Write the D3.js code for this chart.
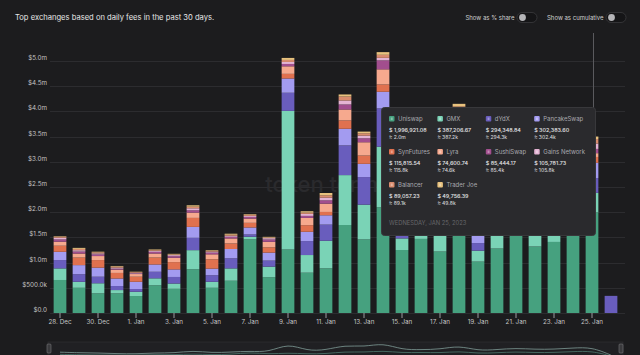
<!DOCTYPE html>
<html>
<head>
<meta charset="utf-8">
<script src="https://cdn.jsdelivr.net/npm/d3@7"></script>
<style>
  html, body { margin: 0; padding: 0; background: #1c1c1e; }
  svg { display: block; font-family: Inter, "Noto Sans", sans-serif; }
</style>
</head>
<body>
<svg id="chart" width="640" height="355"></svg>
<script>
// ---------------- DATA ----------------
const days = [
  "2022-12-28","2022-12-29","2022-12-30","2022-12-31","2023-01-01","2023-01-02",
  "2023-01-03","2023-01-04","2023-01-05","2023-01-06","2023-01-07","2023-01-08",
  "2023-01-09","2023-01-10","2023-01-11","2023-01-12","2023-01-13","2023-01-14",
  "2023-01-15","2023-01-16","2023-01-17","2023-01-18","2023-01-19","2023-01-20",
  "2023-01-21","2023-01-22","2023-01-23","2023-01-24","2023-01-25","2023-01-26"
];
const xTickDays = ["2022-12-28","2022-12-30","2023-01-01","2023-01-03","2023-01-05","2023-01-07",
  "2023-01-09","2023-01-11","2023-01-13","2023-01-15","2023-01-17","2023-01-19",
  "2023-01-21","2023-01-23","2023-01-25"];
const xTickLabels = ["28. Dec","30. Dec","1. Jan","3. Jan","5. Jan","7. Jan","9. Jan","11. Jan",
  "13. Jan","15. Jan","17. Jan","19. Jan","21. Jan","23. Jan","25. Jan"];
const yTicks = [0, 0.5, 1, 1.5, 2, 2.5, 3, 3.5, 4, 4.5, 5];           // $m
const yTickLabels = ["$0.0","$500.0k","$1.0m","$1.5m","$2.0m","$2.5m","$3.0m","$3.5m","$4.0m","$4.5m","$5.0m"];

const seriesNames = ["Uniswap","GMX","dYdX","PancakeSwap","SynFutures","Lyra","SushiSwap","Gains Network","Balancer","Trader Joe"];
const seriesColors = ["#46a17f","#7ad3b6","#695dbd","#a39bf0","#e0714f","#f6a98e","#a24e8e","#e4b3d3","#d98c6e","#e8c27e"];

// daily fees, $m
const uniswap    = [0.655,0.50,0.39,0.39,0.337,0.55,0.48,0.867,0.50,0.64,1.46,0.71,1.26,0.80,0.887,1.746,1.46,2.10,1.25,1.47,1.22,1.90,1.02,1.28,1.70,1.32,1.41,1.75,1.997,0];
const gmx        = [0.23,0.12,0.20,0.065,0.085,0.138,0.105,0.38,0.12,0.245,0.053,0.21,2.75,0.35,0.547,0.99,0.69,1.20,0.23,0.20,0.40,0.80,0.217,0.30,0.35,0.30,0.25,0.35,0.387,0];
const dydx       = [0.165,0.15,0.13,0.08,0.053,0.13,0.13,0.245,0.13,0.20,0.046,0.12,0.36,0.277,0.32,0.59,0.547,0.76,0.30,0.25,0.30,0.45,0.15,0.28,0.30,0.28,0.27,0.28,0.294,0.34];
const pancakeswap= [0.165,0.18,0.18,0.15,0.145,0.145,0.15,0.217,0.13,0.185,0.138,0.158,0.283,0.185,0.185,0.33,0.263,0.33,0.25,0.25,0.28,0.35,0.25,0.27,0.30,0.28,0.29,0.30,0.302,0];
const synfutures = [0.12,0.15,0.15,0.11,0.10,0.138,0.145,0.178,0.185,0.11,0.092,0.105,0.092,0.13,0.066,0.165,0.165,0.145,0.12,0.10,0.12,0.15,0.12,0.12,0.12,0.11,0.11,0.12,0.116,0];
const lyra       = [0.08,0.08,0.08,0.065,0.053,0.08,0.085,0.105,0.10,0.10,0.085,0.11,0.15,0.145,0.165,0.217,0.263,0.30,0.15,0.12,0.15,0.20,0.15,0.12,0.10,0.10,0.08,0.08,0.075,0];
const sushiswap  = [0.045,0.04,0.033,0.02,0.013,0.033,0.033,0.046,0.033,0.033,0.033,0.046,0.046,0.04,0.066,0.10,0.079,0.178,0.06,0.05,0.06,0.10,0.06,0.06,0.07,0.07,0.08,0.08,0.085,0];
const gains      = [0.033,0.026,0.02,0.02,0.013,0.02,0.02,0.04,0.02,0.02,0.02,0.026,0.04,0.04,0.053,0.079,0.053,0.05,0.05,0.04,0.05,0.08,0.05,0.06,0.07,0.08,0.09,0.10,0.106,0];
const balancer   = [0.02,0.026,0.02,0.02,0.013,0.013,0.013,0.033,0.013,0.02,0.02,0.013,0.04,0.026,0.046,0.079,0.046,0.06,0.04,0.04,0.04,0.07,0.04,0.05,0.06,0.06,0.07,0.08,0.089,0];
const traderjoe  = [0.01,0.02,0.013,0.013,0.007,0.013,0.013,0.026,0.013,0.02,0.013,0.013,0.04,0.026,0.046,0.04,0.033,0.053,0.03,0.03,0.03,0.05,0.03,0.03,0.04,0.04,0.04,0.05,0.050,0];

// tooltip (hovered day)
const tooltipDay = "2023-01-25";
const tooltipDate = "WEDNESDAY, JAN 25, 2023";
const tooltipValues = [1996921.08, 387206.67, 294348.84, 302383.60, 115815.54, 74600.74, 85444.17, 105781.73, 89057.23, 49756.39];

// ---------------- BUILD ----------------
const seriesData = [uniswap,gmx,dydx,pancakeswap,synfutures,lyra,sushiswap,gains,balancer,traderjoe];
const table = days.map((d, i) => {
  const row = { day: d };
  seriesNames.forEach((n, s) => row[n] = seriesData[s][i]);
  return row;
});
const stacked = d3.stack().keys(seriesNames)(table);

const svg = d3.select("#chart");
const plotL = 50, plotR = 625, plotTop = 33, baseY = 313;

const x = d3.scaleBand().domain(days).range([50.5, 620.5]).paddingInner(0.33).paddingOuter(0.165);
const y = d3.scaleLinear().domain([0, 5]).range([baseY, 61]);

// title
svg.append("text").attr("x", 15).attr("y", 19.5).attr("fill", "#e6e6e6")
  .attr("font-size", 7.6).text("Top exchanges based on daily fees in the past 30 days.");

// toggles
function toggle(label, xr) {
  svg.append("text").attr("x", xr).attr("y", 20).attr("text-anchor", "end")
    .attr("fill", "#cfcfcf").attr("font-size", 6).text(label);
  svg.append("rect").attr("x", xr + 2.5).attr("y", 12.5).attr("width", 20).attr("height", 10)
    .attr("rx", 5).attr("fill", "#151517").attr("stroke", "#3b3b3e").attr("stroke-width", 0.8);
  svg.append("circle").attr("cx", xr + 8).attr("cy", 17.5).attr("r", 3.4).attr("fill", "#b5b5b8");
}
toggle("Show as % share", 514.5);
toggle("Show as cumulative", 603.5);

// gridlines
svg.append("g").selectAll("line").data(yTicks).join("line")
  .attr("x1", plotL).attr("x2", plotR)
  .attr("y1", d => Math.round(y(d)) + 0.5).attr("y2", d => Math.round(y(d)) + 0.5)
  .attr("stroke", "#2c2c2f").attr("stroke-width", 1);

// y axis
const yAxis = svg.append("g").attr("transform", `translate(${plotL - 3},0)`)
  .call(d3.axisLeft(y).tickValues(yTicks).tickSize(0).tickPadding(0)
    .tickFormat((d, i) => yTickLabels[i]));
yAxis.select(".domain").remove();
yAxis.selectAll("text").attr("fill", "#c4c4c4").attr("font-size", 6.3)
  .attr("font-family", "Inter, 'Noto Sans', sans-serif").attr("y", -3.5);

// watermark
svg.append("text").attr("x", 340).attr("y", 192).attr("text-anchor", "middle")
  .attr("fill", "#2a2a2d").attr("font-size", 22).attr("font-weight", 500)
  .text("token terminal");

// crosshair
svg.append("line").attr("x1", 593.5).attr("x2", 593.5).attr("y1", plotTop).attr("y2", baseY)
  .attr("stroke", "#5a5a5e").attr("stroke-width", 1);

// bars
svg.append("g").selectAll("g").data(stacked).join("g")
  .attr("fill", (d, i) => seriesColors[i])
  .selectAll("rect").data(d => d).join("rect")
  .attr("x", d => x(d.data.day))
  .attr("width", x.bandwidth())
  .attr("y", d => y(d[1]))
  .attr("height", d => Math.max(0, y(d[0]) - y(d[1])));

// x axis
const xAxis = svg.append("g").attr("transform", `translate(0,${baseY})`)
  .call(d3.axisBottom(x).tickValues(xTickDays).tickSize(5).tickPadding(2)
    .tickFormat((d, i) => xTickLabels[i]));
xAxis.select(".domain").remove();
xAxis.selectAll("line").attr("stroke", "#9a9a9e");
xAxis.selectAll("text").attr("fill", "#c4c4c4").attr("font-size", 6.3)
  .attr("font-family", "Inter, 'Noto Sans', sans-serif");

// navigator
const totals = table.map(r => d3.sum(seriesNames, n => r[n]));
const nav = svg.append("g");
nav.append("rect").attr("x", 48).attr("y", 342).attr("width", 575).attr("height", 20)
  .attr("fill", "#202023").attr("stroke", "#2e2e31").attr("stroke-width", 0.8);
const ny = d3.scaleLinear().domain([0, d3.max(totals)]).range([356, 343]);
nav.append("path").datum(totals)
  .attr("d", d3.line().x((d, i) => x(days[i]) + x.bandwidth() / 2).y(d => ny(d)).curve(d3.curveBasis))
  .attr("fill", "none").attr("stroke", "#7f9c97").attr("stroke-width", 0.8);
nav.append("path").datum(uniswap)
  .attr("d", d3.line().x((d, i) => x(days[i]) + x.bandwidth() / 2).y(d => ny(d)).curve(d3.curveBasis))
  .attr("fill", "none").attr("stroke", "#4f7a70").attr("stroke-width", 0.8);
[49, 621].forEach(hx => {
  nav.append("rect").attr("x", hx - 2).attr("y", 344).attr("width", 4).attr("height", 9)
    .attr("rx", 1).attr("fill", "#3a3a3d").attr("stroke", "#77777b").attr("stroke-width", 0.6);
});

// tooltip
const tt = svg.append("g");
tt.append("rect").attr("x", 381.5).attr("y", 107.5).attr("width", 214).attr("height", 128)
  .attr("rx", 3).attr("fill", "#2a2a2d").attr("stroke", "#38383b").attr("stroke-width", 1);
const fmtFull = d3.format(",.2f");
const fmtShort = v => v >= 1e6 ? (v / 1e6).toFixed(1) + "m" : (v / 1e3).toFixed(1) + "k";
seriesNames.forEach((n, i) => {
  const col = i % 4, row = Math.floor(i / 4);
  const cx = 389 + col * 48.4, ry = 120.5 + row * 33;
  tt.append("rect").attr("x", cx).attr("y", ry - 4.5).attr("width", 5.5).attr("height", 5.5)
    .attr("rx", 1).attr("fill", seriesColors[i]);
  tt.append("rect").attr("x", cx + 1.8).attr("y", ry - 3).attr("width", 1.9).attr("height", 2.6)
    .attr("fill", "#ffffff").attr("opacity", 0.35);
  tt.append("text").attr("x", cx + 9).attr("y", ry).attr("fill", "#a9a9ad")
    .attr("font-size", 6).text(n);
  tt.append("text").attr("x", cx).attr("y", ry + 11.5).attr("fill", "#e8e8ea")
    .attr("font-size", 5.4).attr("font-weight", 500).text("$ " + fmtFull(tooltipValues[i]));
  tt.append("text").attr("x", cx).attr("y", ry + 18.6).attr("fill", "#d0d0d3")
    .attr("font-size", 5.0).attr("font-weight", 500).text("≈ " + fmtShort(tooltipValues[i]));
});
tt.append("text").attr("x", 389).attr("y", 224.5).attr("fill", "#67676b")
  .attr("font-size", 5.8).text(tooltipDate);
</script>
</body>
</html>
